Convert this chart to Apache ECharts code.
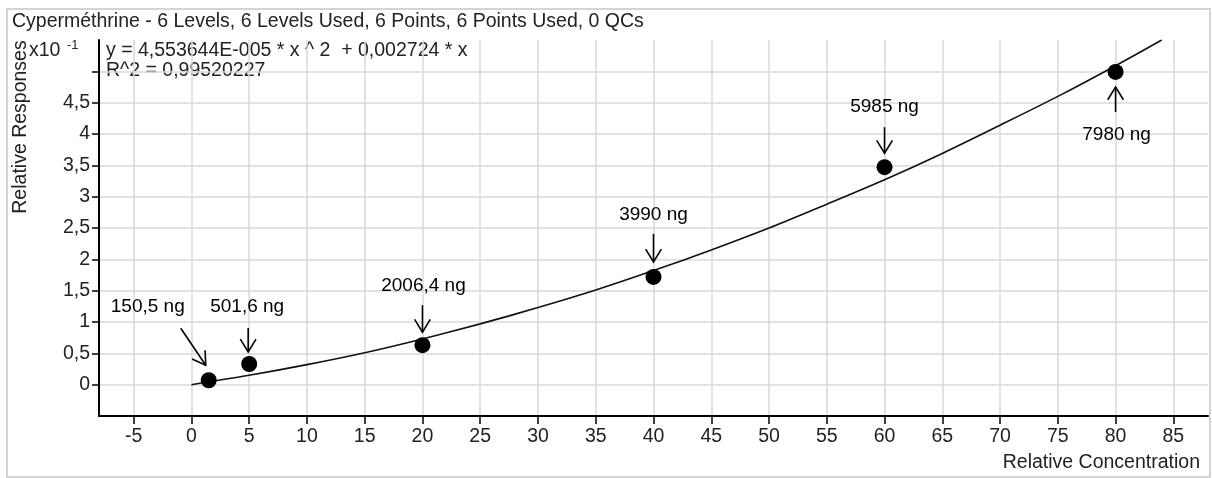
<!DOCTYPE html>
<html>
<head>
<meta charset="utf-8">
<script src="https://cdn.jsdelivr.net/npm/echarts@6/dist/echarts.min.js"></script>
<style>
  html, body { margin: 0; padding: 0; background: #ffffff; }
  #chart { width: 1212px; height: 478px; }
</style>
</head>
<body>
<div id="chart"></div>
<script>
// ---- data ----
const chartTitle = 'Cyperméthrine - 6 Levels, 6 Levels Used, 6 Points, 6 Points Used, 0 QCs';
const equationText = 'y = 4,553644E-005 * x ^ 2  + 0,002724 * x';
const r2Text = 'R^2 = 0,99520227';
const xAxisTitle = 'Relative Concentration';
const yAxisTitle = 'Relative Responses';

// calibration points (relative concentration, relative response x10^-1)
const pointX = [1.5, 5, 20, 40, 60, 80];
const pointY = [0.07, 0.33, 0.63, 1.72, 3.47, 4.99];
const pointLabels = ['150,5 ng', '501,6 ng', '2006,4 ng', '3990 ng', '5985 ng', '7980 ng'];

// fitted curve, values
const curveX = [0, 5, 10, 15, 20, 25, 30, 35, 40, 45, 50, 55, 60, 65, 70, 75, 80, 84];
const curveY = [0, 0.15, 0.32, 0.51, 0.73, 0.97, 1.23, 1.51, 1.82, 2.15, 2.50, 2.88, 3.27, 3.69, 4.14, 4.60, 5.09, 5.50];

// axis ticks
const xTickValues = [-5, 0, 5, 10, 15, 20, 25, 30, 35, 40, 45, 50, 55, 60, 65, 70, 75, 80, 85];
const yTickValues = [0, 0.5, 1, 1.5, 2, 2.5, 3, 3.5, 4, 4.5, 5];
const yLabelValues = [0, 0.5, 1, 1.5, 2, 2.5, 3, 3.5, 4, 4.5];

// ---- annotation layout (pixel offsets from the point: label centre, arrow tail, arrow tip) ----
const annotationLayout = [
  { label: [-61, -74], tail: [-28, -52], tip: [-3, -15] },
  { label: [-2, -57], tail: [-1, -36], tip: [-1, -12] },
  { label: [1, -59], tail: [0, -40], tip: [0, -13] },
  { label: [0, -62], tail: [0, -43], tip: [0, -15] },
  { label: [0, -60], tail: [0, -40], tip: [0, -14] },
  { label: [1, 63], tail: [0, 40], tip: [0, 15] }
];

const FONT = '"Liberation Sans", Arial, sans-serif';
const FS = 19.5;

const chart = echarts.init(document.getElementById('chart'), null, { renderer: 'canvas' });

function fmt(v) { return String(v).replace('.', ','); }

const option = {
  backgroundColor: '#ffffff',
  animation: false,
  grid: { left: 99, right: 4, top: 40, bottom: 62, containLabel: false },
  xAxis: {
    type: 'value',
    min: -8,
    max: 88,
    axisLine: { show: true, onZero: false, lineStyle: { color: '#000', width: 2 } },
    axisTick: { show: true, length: 8, customValues: xTickValues, lineStyle: { color: '#000', width: 1.5 } },
    axisLabel: { customValues: xTickValues, color: '#222', fontFamily: FONT, fontSize: FS, margin: 11 },
    splitLine: { show: true, lineStyle: { color: '#d9d9d9', width: 1.5 } }
  },
  yAxis: {
    type: 'value',
    min: -0.5,
    max: 5.5,
    axisLine: { show: true, onZero: false, lineStyle: { color: '#000', width: 2 } },
    axisTick: { show: true, length: 7, customValues: yTickValues, lineStyle: { color: '#000', width: 1.5 } },
    axisLabel: { customValues: yLabelValues, formatter: fmt, color: '#222', fontFamily: FONT, fontSize: FS, margin: 9 },
    splitLine: { show: true, lineStyle: { color: '#d9d9d9', width: 1.5 } }
  },
  graphic: [
    { type: 'rect', silent: true, shape: { x: 7, y: 9, width: 1203, height: 468 },
      style: { fill: null, stroke: '#d4d4d4', lineWidth: 2 } },
    { type: 'text', silent: true, style: { text: chartTitle, x: 12, y: 22, verticalAlign: 'middle',
      font: FS + 'px ' + FONT, fill: '#222' } },
    { type: 'text', silent: true, style: { text: equationText, x: 106, y: 51, verticalAlign: 'middle',
      font: FS + 'px ' + FONT, fill: '#222' } },
    { type: 'text', silent: true, style: { text: r2Text, x: 106, y: 71, verticalAlign: 'middle',
      font: FS + 'px ' + FONT, fill: '#222' } },
    { type: 'text', silent: true, style: { text: 'x10', x: 29, y: 51, verticalAlign: 'middle',
      font: FS + 'px ' + FONT, fill: '#222' } },
    { type: 'text', silent: true, style: { text: '-1', x: 67, y: 45, verticalAlign: 'middle',
      font: '13px ' + FONT, fill: '#222' } },
    { type: 'text', silent: true, rotation: Math.PI / 2, x: 21, y: 127,
      style: { text: yAxisTitle, x: 0, y: 0, align: 'center', verticalAlign: 'middle',
      font: FS + 'px ' + FONT, fill: '#222' } },
    { type: 'text', silent: true, style: { text: xAxisTitle, x: 1200, y: 463, align: 'right', verticalAlign: 'middle',
      font: FS + 'px ' + FONT, fill: '#222' } }
  ],
  series: [
    {
      type: 'line',
      data: curveX.map((x, i) => [x, curveY[i]]),
      smooth: 0.3,
      showSymbol: false,
      lineStyle: { color: '#111', width: 1.6 },
      z: 3,
      clip: true
    },
    {
      type: 'scatter',
      data: pointX.map((x, i) => [x, pointY[i]]),
      symbol: 'circle',
      symbolSize: 16,
      itemStyle: { color: '#000', opacity: 1 },
      z: 4
    },
    {
      type: 'custom',
      data: pointX.map((x, i) => [x, pointY[i]]),
      z: 5,
      clip: false,
      renderItem: function (params, api) {
        const i = params.dataIndex;
        const p = api.coord([api.value(0), api.value(1)]);
        const o = annotationLayout[i];
        const sx = p[0] + o.tail[0], sy = p[1] + o.tail[1];
        const tx = p[0] + o.tip[0], ty = p[1] + o.tip[1];
        const ang = Math.atan2(ty - sy, tx - sx);
        const L = 15, a = 0.55;
        const h1 = [tx - L * Math.cos(ang - a), ty - L * Math.sin(ang - a)];
        const h2 = [tx - L * Math.cos(ang + a), ty - L * Math.sin(ang + a)];
        return {
          type: 'group',
          children: [
            { type: 'line', shape: { x1: sx, y1: sy, x2: tx, y2: ty }, style: { stroke: '#000', lineWidth: 1.6 } },
            { type: 'polyline', shape: { points: [h1, [tx, ty], h2] }, style: { stroke: '#000', fill: null, lineWidth: 1.6 } },
            { type: 'text', style: { text: pointLabels[i], x: p[0] + o.label[0], y: p[1] + o.label[1],
              align: 'center', verticalAlign: 'middle', font: '19px ' + FONT, fill: '#000' } }
          ]
        };
      }
    }
  ]
};

chart.setOption(option);
</script>
</body>
</html>
